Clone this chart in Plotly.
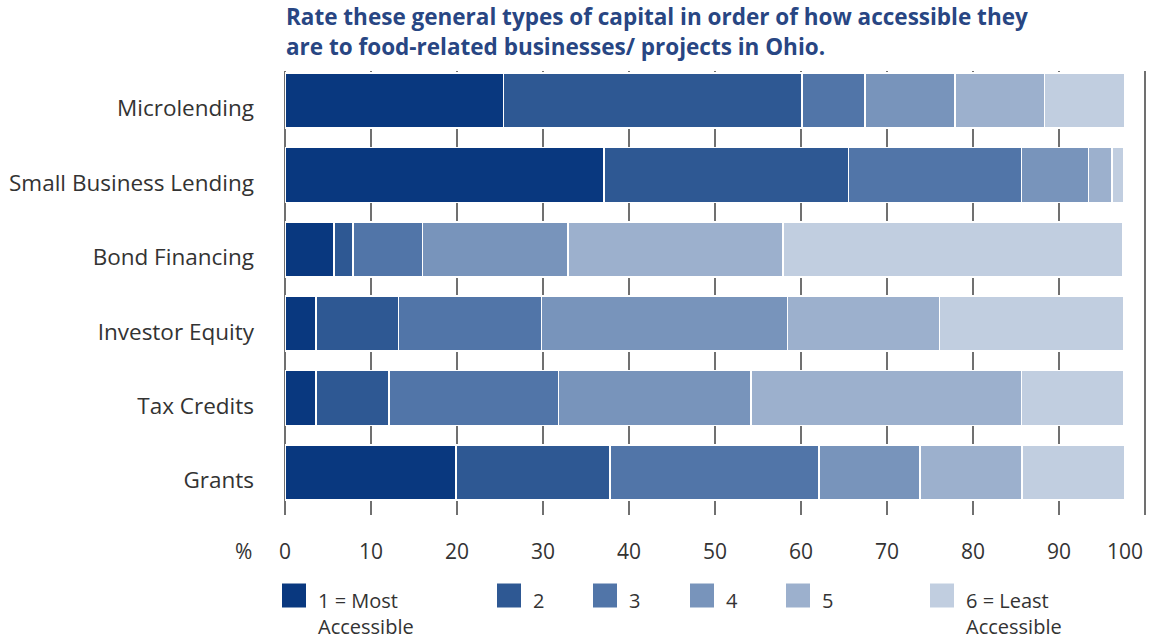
import plotly.graph_objects as go

# Capital types, listed bottom-to-top as they appear on the y axis
categories = ["Grants", "Tax Credits", "Investor Equity", "Bond Financing",
              "Small Business Lending", "Microlending"]

# Share of respondents (%) giving each rank, per capital type (same order as categories)
rank_1 = [19.9, 3.6, 3.6, 5.7, 37.1, 25.4]
rank_2 = [17.9, 8.5, 9.6, 2.2, 28.4, 34.7]
rank_3 = [24.3, 19.7, 16.6, 8.1, 20.1, 7.3]
rank_4 = [11.7, 22.4, 28.6, 16.9, 7.8, 10.5]
rank_5 = [11.9, 31.4, 17.7, 25.0, 2.7, 10.4]
rank_6 = [11.9, 11.9, 21.4, 39.5, 1.4, 9.3]

series_names = ["1 = Most<br>Accessible", "2", "3", "4", "5", "6 = Least<br>Accessible"]
series_values = [rank_1, rank_2, rank_3, rank_4, rank_5, rank_6]
colors = ["#09387f", "#2e5893", "#5175a8", "#7894bb", "#9cb0cd", "#c1cee0"]

tick_values = list(range(0, 101, 10))
tick_labels = [str(v) for v in tick_values]

title_lines = ["Rate these general types of capital in order of how accessible they",
               "are to food-related businesses/ projects in Ohio."]

TEXT = "#333333"
FONT = "Open Sans"
W, H = 1157, 643
L, R, T, B = 285, 10, 71, 128
PW, PH = W - L - R, H - T - B


def px_x(px):
    """Horizontal pixel position -> paper fraction."""
    return (px - L) / PW


def px_y(py):
    """Vertical pixel position (from top) -> paper fraction."""
    return (H - B - py) / PH


fig = go.Figure()
for name, vals, col in zip(series_names, series_values, colors):
    fig.add_trace(go.Bar(
        y=categories, x=vals, name=name, orientation="h",
        marker=dict(color=col, line=dict(color="white", width=1.6)),
        width=0.74, showlegend=False,
    ))

# Key: colour swatches with their rank labels below the axis
key_left = [282, 497, 593, 690, 786, 930]
for kx, name, col in zip(key_left, series_names, colors):
    fig.add_shape(type="rect", xref="paper", yref="paper",
                  x0=px_x(kx), x1=px_x(kx + 24), y0=px_y(607.5), y1=px_y(583.5),
                  fillcolor=col, line=dict(width=0))
    fig.add_annotation(xref="paper", yref="paper", x=px_x(kx + 34),
                       y=px_y(585), text=name, showarrow=False,
                       xanchor="left", yanchor="top", align="left",
                       font=dict(family=FONT, size=20, color=TEXT))

# Axis numbers, with the last one kept inside the frame
for v, lab in zip(tick_values, tick_labels):
    fig.add_annotation(xref="x", yref="paper", x=v, y=px_y(551), text=lab,
                       showarrow=False, xanchor="right" if v == 100 else "center",
                       yanchor="middle",
                       font=dict(family=FONT, size=21, color=TEXT))
fig.add_annotation(xref="paper", yref="paper", x=px_x(243), y=px_y(551), text="%",
                   showarrow=False, xanchor="center", yanchor="middle",
                   font=dict(family=FONT, size=21, color=TEXT))

# Two-line bold heading
for i, line in enumerate(title_lines):
    fig.add_annotation(xref="paper", yref="paper", x=px_x(284), y=px_y(17 + 29 * i),
                       text="<b>" + line + "</b>", showarrow=False,
                       xanchor="left", yanchor="middle",
                       font=dict(family=FONT, size=22.5, color="#284683"))

fig.update_layout(
    barmode="stack",
    width=W, height=H,
    margin=dict(l=L, r=R, t=T, b=B),
    paper_bgcolor="white", plot_bgcolor="white",
    font=dict(family=FONT, color=TEXT),
    xaxis=dict(range=[0, 100.2], tickvals=tick_values, showticklabels=False,
               showgrid=True, gridcolor="#707070", gridwidth=1.5,
               zeroline=True, zerolinecolor="#707070", zerolinewidth=1.5,
               showline=False, ticks="", fixedrange=True),
    yaxis=dict(range=[-0.571, 5.397], showgrid=False, zeroline=False,
               showline=False, ticks="", ticklabelstandoff=30, ticklabelshift=8,
               tickfont=dict(family=FONT, size=22.5, color=TEXT)),
)

fig.write_html("out.html")
